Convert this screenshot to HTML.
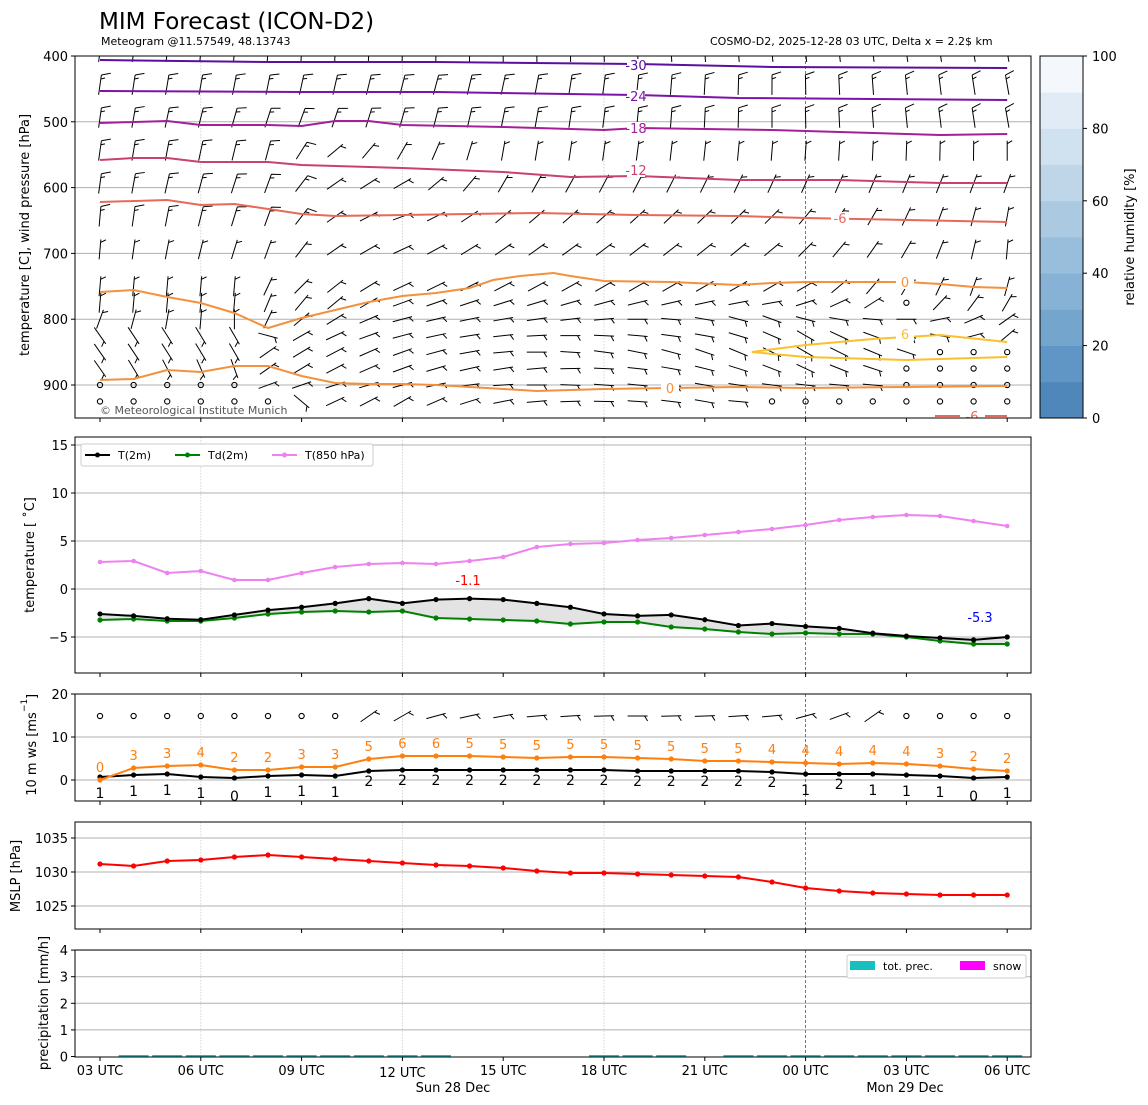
<!DOCTYPE html>
<html><head><meta charset="utf-8">
<style>
html,body{margin:0;padding:0;background:#fff;}
svg{display:block;font-family:"DejaVu Sans","Liberation Sans",sans-serif;}
</style></head>
<body>
<svg id="s" width="1148" height="1105" xmlns="http://www.w3.org/2000/svg">
<defs>
<clipPath id="c1"><rect x="75" y="56" width="956" height="362"/></clipPath>
</defs>
<rect width="1148" height="1105" fill="#fff"/>
<text x="99" y="29" font-size="23">MIM Forecast (ICON-D2)</text>
<text x="101" y="45" font-size="11">Meteogram @11.57549, 48.13743</text>
<text x="710" y="45" font-size="11">COSMO-D2, 2025-12-28 03 UTC, Delta x = 2.2$ km</text>
</svg>
<script>
const S=document.getElementById('s');const NS='http://www.w3.org/2000/svg';
function el(t,a,p){const e=document.createElementNS(NS,t);for(const k in a)e.setAttribute(k,a[k]);(p||S).appendChild(e);return e;}
function txt(x,y,s,o,p){o=o||{};const e=el('text',Object.assign({x:x,y:y,'font-size':13},o),p);e.textContent=s;return e;}
const X=h=>100+33.6*h;
const L=75,R=1031;
function path(pts){return pts.map((p,i)=>(i?'L':'M')+p[0].toFixed(1)+' '+p[1].toFixed(1)).join(' ');}
function vlines(t,b){
  [3,9,15].forEach(h=>el('line',{x1:X(h),x2:X(h),y1:t,y2:b,stroke:'#ccc','stroke-width':0.8,'stroke-dasharray':'1.5,1.5'}));
  el('line',{x1:X(21),x2:X(21),y1:t,y2:b,stroke:'#555','stroke-width':0.8,'stroke-dasharray':'3,2'});
}
function hgrid(ys){ys.forEach(y=>el('line',{x1:L,x2:R,y1:y,y2:y,stroke:'#b0b0b0','stroke-width':1}));}
function yticks(vals){vals.forEach(([y,s])=>{el('line',{x1:L-4,x2:L,y1:y,y2:y,stroke:'#000'});txt(L-7,y+5,s,{'text-anchor':'end'});});}
function xticks(b){for(let h=0;h<=27;h+=3)el('line',{x1:X(h),x2:X(h),y1:b,y2:b+4,stroke:'#000'});}
function frame(t,b){el('rect',{x:L,y:t,width:R-L,height:b-t,fill:'none',stroke:'#000','stroke-width':1});}
function ylab(x,y,s){txt(x,y,s,{transform:`rotate(-90 ${x} ${y})`,'text-anchor':'middle'});}

// ---------- Panel 1 ----------
const P=p=>56+(p-400)*0.658;
hgrid([P(500),P(600),P(700),P(800),P(900)]);
vlines(56,418);
const g1=el('g',{'clip-path':'url(#c1)'});
function barb(x,y,a,kind,g){
  if(kind==='c'){el('circle',{cx:x,cy:y,r:2.6,fill:'none',stroke:'#000','stroke-width':1.1},g);return;}
  const r=a*Math.PI/180,Ln=20;const dx=Math.cos(r),dy=Math.sin(r);
  const x0=x-dx*Ln/2,y0=y-dy*Ln/2,x1=x+dx*Ln/2,y1=y+dy*Ln/2;
  let d=`M${x0} ${y0}L${x1} ${y1}`;
  const px=-dy,py=dx; const len=kind==='f'?9:5;
  const bx=x1-dx*(kind==='f'?0:3),by=y1-dy*(kind==='f'?0:3);
  d+=`M${bx} ${by}L${bx+px*len+dx*3} ${by+py*len+dy*3}`;
  if(kind==='f'){const b2x=x1-dx*4,b2y=y1-dy*4;d+=`M${b2x} ${b2y}L${b2x+px*4+dx*1.5} ${b2y+py*4+dy*1.5}`;}
  el('path',{d:d,stroke:'#000','stroke-width':1,fill:'none'},g);
}
const levels=[400,450,500,550,600,650,700,750,775,800,825,850,875,900,925];
function lerp(h,pts){for(let i=0;i<pts.length-1;i++){if(h<=pts[i+1][0]){const t=(h-pts[i][0])/(pts[i+1][0]-pts[i][0]);return pts[i][1]+t*(pts[i+1][1]-pts[i][1]);}}return pts[pts.length-1][1];}
const ang={
400:[[0,-82],[27,-100]],450:[[0,-82],[10,-75],[27,-100]],500:[[0,-82],[6,-70],[27,-100]],
550:[[0,-82],[5,-75],[7,-40],[9,-60],[12,-80],[27,-90]],
600:[[0,-82],[5,-70],[7,-35],[9,-30],[12,-60],[27,-70]],
650:[[0,-85],[5,-70],[7,-35],[9,-20],[12,-40],[20,-45],[27,-80]],
700:[[0,-85],[5,-70],[7,-35],[9,-25],[12,-35],[20,-40],[24,-60],[27,-85]],
750:[[0,-85],[4,-85],[6,-45],[9,-25],[15,-30],[21,-30],[24,-60],[27,-75]],
775:[[0,-85],[4,-85],[6,-50],[9,-20],[15,-15],[20,-10],[24,-40],[27,-60]],
800:[[0,-70],[4,-90],[6,-40],[9,-15],[15,-5],[20,20],[24,0],[27,-35]],
825:[[0,55],[4,60],[6,-30],[9,-15],[14,0],[18,10],[21,30],[25,10],[27,-40]],
850:[[0,55],[4,60],[5,-35],[9,-20],[13,0],[17,15],[21,30],[25,15]],
875:[[0,55],[4,70],[5,-35],[9,-20],[13,-5],[17,10],[21,25],[24,15]],
900:[[5,-20],[9,-15],[13,0],[18,10],[22,5]],
925:[[6,40],[7,-25],[9,-30],[13,-5],[18,10],[20,0]]};
function isCalm(p,h){
  if(p===900&&(h<=4||h>=24))return true;
  if(p===925&&(h<=5||h>=20))return true;
  if(p===875&&h>=24)return true;
  if(p===850&&h>=25)return true;
  if(p===775&&h===24)return true;
  return false;}
levels.forEach(p=>{for(let h=0;h<28;h++){
  const y=P(p)-(p<=700?4:0);
  if(isCalm(p,h)){barb(X(h),P(p),0,'c',g1);continue;}
  const a=lerp(h,ang[p]);
  const kind=(p<=500||(p<=650&&h<=6))?'f':'h';
  barb(X(h),y,a,kind,g1);}});
function iso(pts,col,w){el('path',{d:path(pts.map(q=>[X(q[0]),q[1]])),stroke:col,'stroke-width':w||2,fill:'none'},g1);}
iso([[0,60],[5,62],[10,62],[16,64],[20,67],[27,68]],'#5b0f9e');
iso([[0,91],[6,92],[10,92],[16,95],[19,98],[27,100]],'#7d12a8');
iso([[0,123],[2,121],[3,125],[5,125],[6,126],[7,121],[8,121],[9,125],[12,127],[15,130],[16,128],[20,130],[25,135],[27,134]],'#a3209a');
iso([[0,160],[1,158],[2,158],[3,162],[5,162],[6,165],[9,168],[12,172],[14,177],[16,176],[19,180],[22,180],[25,183],[27,183]],'#c9426d');
iso([[0,202],[2,200],[3,205],[4,204],[6,214],[7,216],[9,215],[13,213],[16,215],[19,216],[21,218],[27,222]],'#e8685a');
iso([[0,292],[1,290],[2,297],[3,303],[4,313],[5,328],[6,318],[7,310],[8,302],[9,296],[10,293],[11,288],[11.7,280],[12.5,276],[13.5,273],[14,276],[15,281],[17,282],[19,285],[20,283],[21,282],[23,282],[24,282],[25,284],[26,287],[27,288]],'#f4913c');
iso([[0,380],[1,379],[2,370],[3,372],[4,366],[5,366],[6,376],[7,383],[8,384],[9,384],[10,385],[12,389],[13,391],[15,389],[17,388],[19,387],[21,388],[24,387],[27,386]],'#f4913c');
iso([[19.4,352],[21,345],[23,339],[24,337],[25,335],[27,342]],'#fbc02d');
iso([[19.4,352],[21,357],[24,360],[27,357]],'#fbc02d');
el('path',{d:`M935 416L960 416M985 416L1007 416`,stroke:'#e8685a','stroke-width':2},g1);
[['-30',636,70,'#5b0f9e'],['-24',636,101,'#7d12a8'],['-18',636,133,'#a3209a'],['-12',636,175,'#c9426d'],['-6',840,223,'#e8685a'],['0',905,287,'#f4913c'],['0',670,393,'#f4913c'],['6',905,339,'#fbc02d'],['-6',972,421,'#e8685a']].forEach(([s,x,y,c])=>{
  el('rect',{x:x-9,y:y-11,width:18,height:13,fill:'#fff'},g1);txt(x,y,s,{fill:c,'text-anchor':'middle','font-size':13},g1);});
txt(100,414,'© Meteorological Institute Munich',{'font-size':11,fill:'#555'});
frame(56,418);xticks(418);
yticks([[56,'400'],[P(500),'500'],[P(600),'600'],[P(700),'700'],[P(800),'800'],[P(900),'900']]);
ylab(29,235,'temperature [C], wind pressure [hPa]');
const cols=['#4f87bb','#5f96c5','#74a5cd','#87b2d5','#99bedb','#abcae2','#bed6e8','#d0e1ef','#e1ebf5','#f4f8fc'];
for(let i=0;i<10;i++){const y0=418-(i+1)*36.2;el('rect',{x:1040,y:y0,width:43,height:36.6,fill:cols[i]});}
el('rect',{x:1040,y:56,width:43,height:362,fill:'none',stroke:'#000'});
[0,20,40,60,80,100].forEach(v=>{const y=418-v*3.62;el('line',{x1:1083,x2:1087,y1:y,y2:y,stroke:'#000'});txt(1092,y+5,String(v));});
txt(1134,237,'relative humidity [%]',{transform:'rotate(-90 1134 237)','text-anchor':'middle'});

// ---------- Panel 2 ----------
const T=t=>589-9.6*t;
hgrid([T(15),T(10),T(5),T(0),T(-5)]);vlines(437,673);
const t2=[-2.6,-2.8,-3.1,-3.2,-2.7,-2.2,-1.9,-1.5,-1.0,-1.5,-1.1,-1.0,-1.1,-1.5,-1.9,-2.6,-2.8,-2.7,-3.2,-3.8,-3.6,-3.9,-4.1,-4.6,-4.9,-5.1,-5.3,-5.0];
const td=[620,619,621,621,618,614,612,611,612,611,618,619,620,621,624,622,622,627,629,632,634,633,634,634,637,641,644,644];
const t8=[562,561,573,571,580,580,573,567,564,563,564,561,557,547,544,543,540,538,535,532,529,525,520,517,515,516,521,526];
const pT=t2.map((v,i)=>[X(i),T(v)]),pD=td.map((v,i)=>[X(i),v]),p8=t8.map((v,i)=>[X(i),v]);
el('path',{d:path(pT)+' '+path(pD.slice().reverse()).replace('M','L')+'Z',fill:'#e3e3e3',stroke:'none'});
function series(pts,col,r){el('path',{d:path(pts),stroke:col,'stroke-width':2,fill:'none'});pts.forEach(p=>el('circle',{cx:p[0],cy:p[1],r:r||2.6,fill:col}));}
series(p8,'#ee82ee',2.3);series(pD,'#008000');series(pT,'#000');
txt(468,585,'-1.1',{fill:'#f00','text-anchor':'middle'});
txt(980,622,'-5.3',{fill:'#00f','text-anchor':'middle'});
el('rect',{x:81,y:444,width:292,height:22,fill:'#fff',stroke:'#ccc','stroke-width':1,rx:2});
[[85,'#000','T(2m)'],[175,'#008000','Td(2m)'],[272,'#ee82ee','T(850 hPa)']].forEach(([x,c,s])=>{
  el('line',{x1:x,x2:x+25,y1:455,y2:455,stroke:c,'stroke-width':2});el('circle',{cx:x+12.5,cy:455,r:2.5,fill:c});
  txt(x+33,459,s,{'font-size':11});});
frame(437,673);xticks(673);
yticks([[T(15),'15'],[T(10),'10'],[T(5),'5'],[T(0),'0'],[T(-5),'−5']]);
ylab(34,555,'temperature [ ˚C]');

// ---------- Panel 3 ----------
const W=v=>780-4.3*v;
hgrid([W(20),W(10),W(0)]);vlines(694,801);
const ws=[777,775,774,777,778,776,775,776,771,770,770,770,770,770,770,770,771,771,771,771,772,774,774,774,775,776,778,777];
const wl=[1,1,1,1,0,1,1,1,2,2,2,2,2,2,2,2,2,2,2,2,2,1,2,1,1,1,0,1];
const gs=[780,768,766,765,770,770,767,767,759,756,756,756,757,758,757,757,758,759,761,761,762,763,764,763,764,766,769,771];
const gl=[0,3,3,4,2,2,3,3,5,6,6,5,5,5,5,5,5,5,5,5,4,4,4,4,4,3,2,2];
series(ws.map((v,i)=>[X(i),v]),'#000');series(gs.map((v,i)=>[X(i),v]),'#ff7f0e');
gl.forEach((v,i)=>txt(X(i),gs[i]-8,String(v),{fill:'#ff7f0e','text-anchor':'middle'}));
wl.forEach((v,i)=>txt(X(i),ws[i]+(v==2?15:(v==0?23:21)),String(v),{'text-anchor':'middle','font-size':14}));
const wa=[[8,-35],[9,-30],[10,-15],[11,-12],[12,-10],[13,-5],[16,0],[20,-5],[21,-15],[22,-20],[23,-35]];
for(let h=0;h<28;h++){if(h<8||h>23)barb(X(h),716,0,'c');else barb(X(h),716,lerp(h,wa),'h');}
frame(694,801);xticks(801);
yticks([[W(20),'20'],[W(10),'10'],[W(0),'0']]);
txt(36,748,'10 m ws [ms',{transform:'rotate(-90 36 748)','text-anchor':'middle','dx':-6});
txt(27,712,'−1',{transform:'rotate(-90 27 712)','font-size':9});
txt(36,699,']',{transform:'rotate(-90 36 699)'});

// ---------- Panel 4 ----------
const M=p=>872-6.8*(p-1030);
hgrid([M(1035),M(1030),M(1025)]);vlines(822,929);
const ms=[864,866,861,860,857,855,857,859,861,863,865,866,868,871,873,873,874,875,876,877,882,888,891,893,894,895,895,895];
series(ms.map((v,i)=>[X(i),v]),'#f00');
frame(822,929);xticks(929);
yticks([[M(1035),'1035'],[M(1030),'1030'],[M(1025),'1025']]);
ylab(20,876,'MSLP [hPa]');

// ---------- Panel 5 ----------
const Q=v=>1056.5-26.6*v;
hgrid([Q(1),Q(2),Q(3),Q(4)]);vlines(950,1057);
const bars=[1,2,3,4,5,6,7,8,9,10,15,16,17,19,20,21,22,23,24,25,26,27];
bars.forEach(h=>el('rect',{x:X(h)-15,y:1055,width:30,height:2,fill:'#17bfbf'}));
el('rect',{x:847,y:955,width:179,height:23,fill:'#fff',stroke:'#ccc',rx:2});
el('rect',{x:850,y:961,width:25,height:9,fill:'#17bfbf'});txt(883,970,'tot. prec.',{'font-size':11});
el('rect',{x:960,y:961,width:25,height:9,fill:'#ff00ff'});txt(993,970,'snow',{'font-size':11});
frame(950,1057);xticks(1057);
yticks([[Q(0),'0'],[Q(1),'1'],[Q(2),'2'],[Q(3),'3'],[Q(4),'4']]);
ylab(48,1003,'precipitation [mm/h]');
const xl=['03 UTC','06 UTC','09 UTC','12 UTC','15 UTC','18 UTC','21 UTC','00 UTC','03 UTC','06 UTC'];
xl.forEach((s,i)=>txt(X(i*3),i==3?1077:1075,s,{'text-anchor':'middle'}));
txt(453,1092,'Sun 28 Dec',{'text-anchor':'middle'});
txt(905,1092,'Mon 29 Dec',{'text-anchor':'middle'});
</script>
</body></html>
